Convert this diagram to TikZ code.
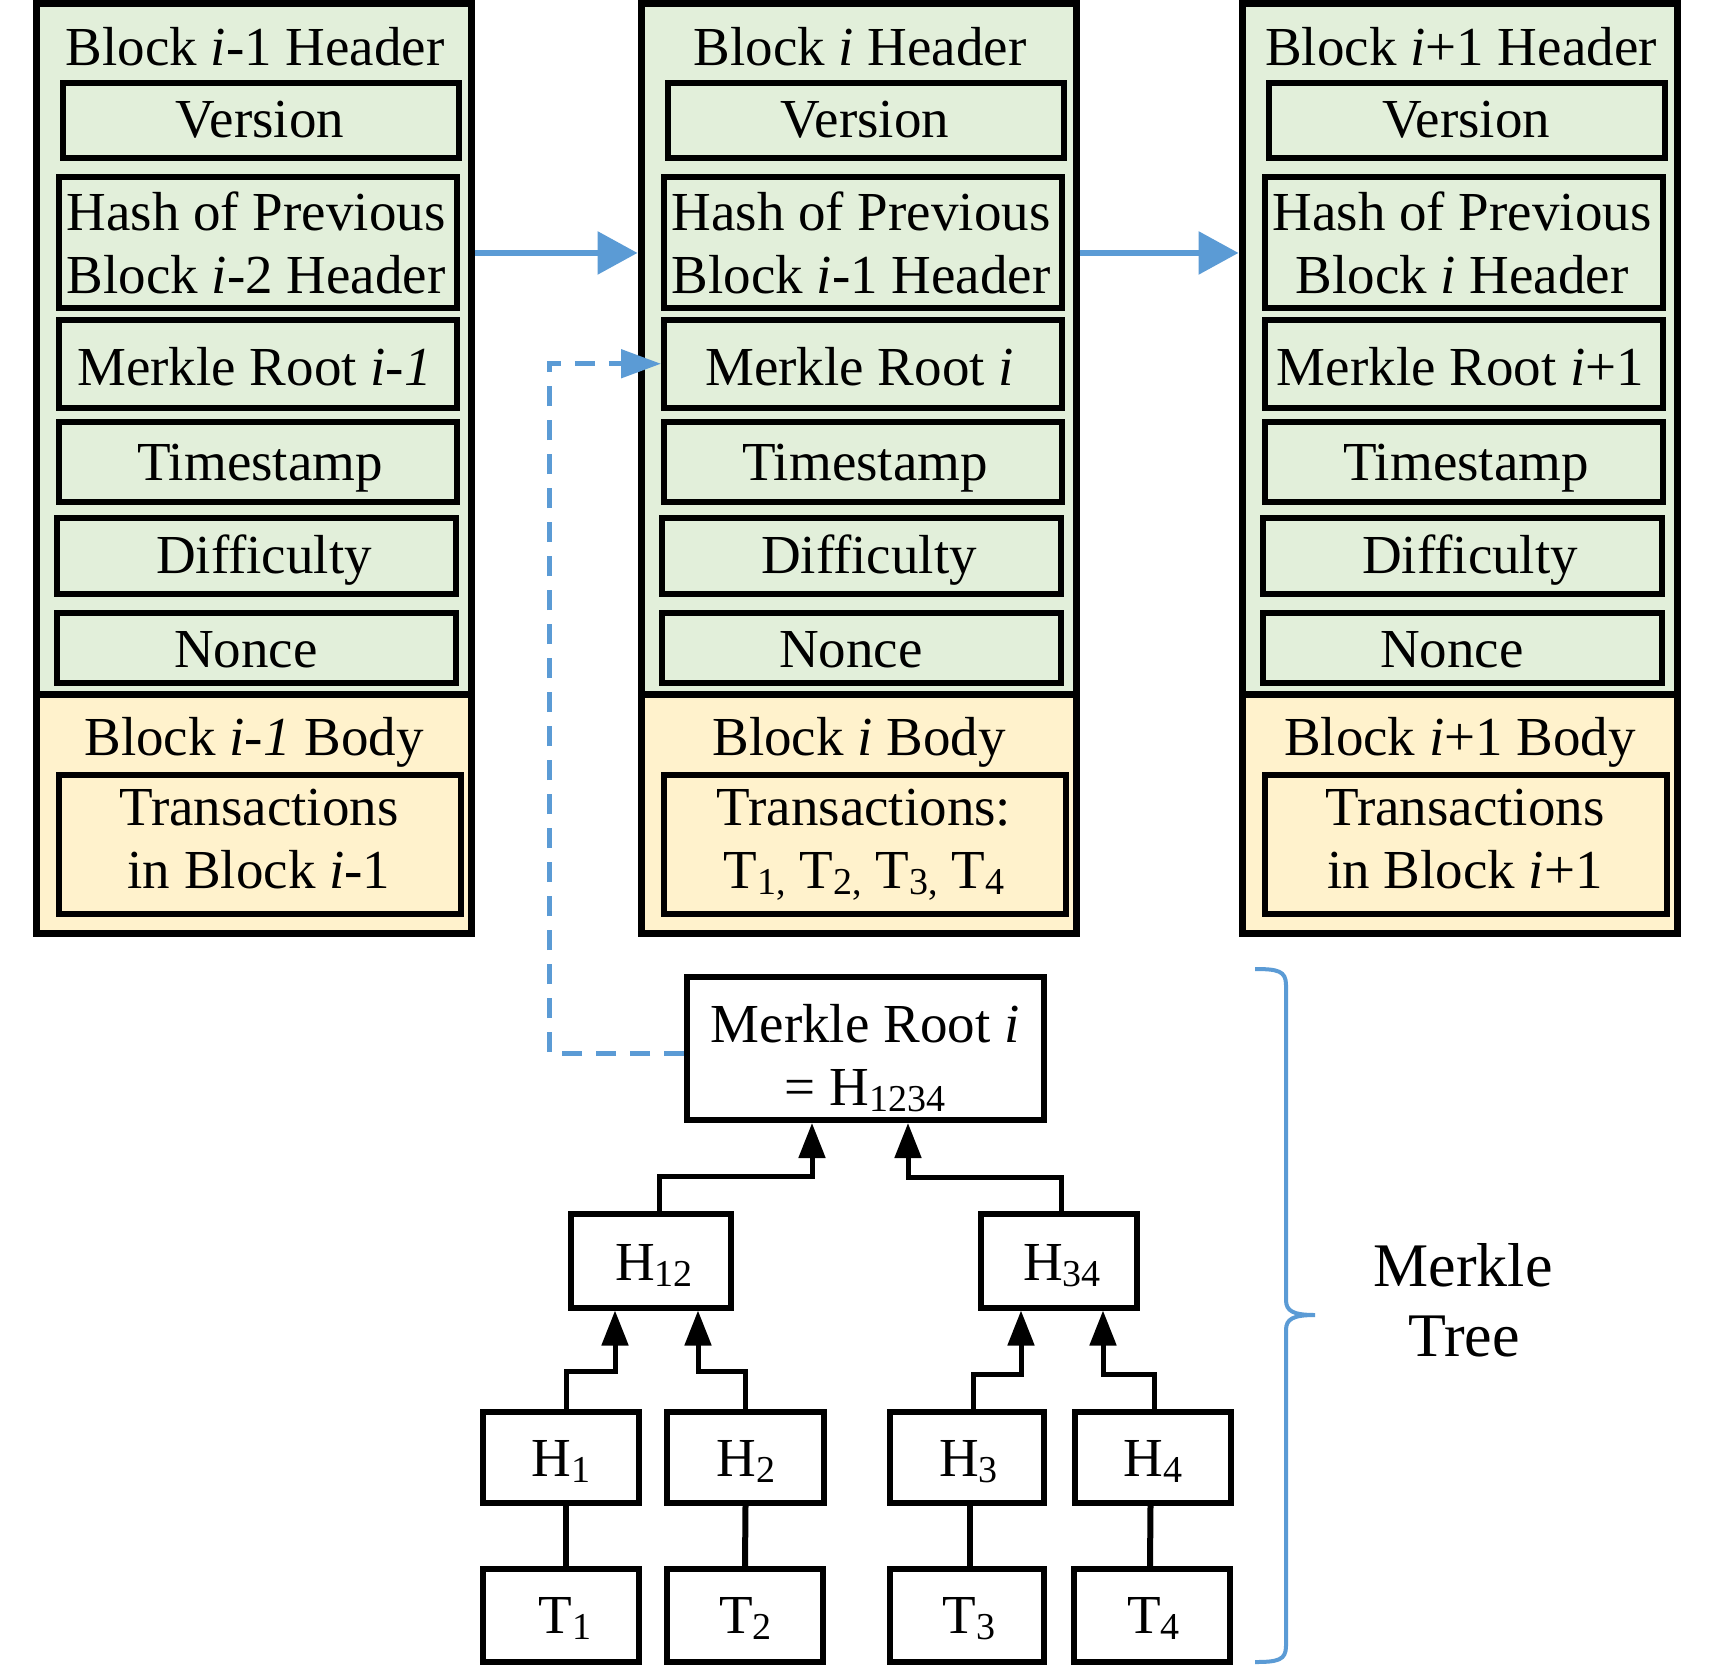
\documentclass[tikz,border=0pt]{standalone}
\usepackage{fontspec}
\setmainfont{Liberation Serif}
\usetikzlibrary{arrows.meta,calc}
\definecolor{hdrgreen}{HTML}{E2EFDA}
\definecolor{bodyyel}{HTML}{FFF2CC}
\definecolor{lnblue}{HTML}{5B9BD5}
\newcommand\fsz{\fontsize{27.5}{31.5}\selectfont}
\newcommand\sbs[1]{\raisebox{-0.11em}{\fontsize{19}{19}\selectfont #1}}
\newcommand\bx[6]{\node[#6, minimum width={((#4)-(#2))*0.5pt}, minimum height={((#5)-(#3))*0.5pt}] (#1) at ({((#2)+(#4))/2},{((#3)+(#5))/2}) {};}
\newcommand\tl[4]{\node[txt] (#1) at ({#2},{#3}) {#4};}
\newcommand\blockframe[2]{%
 \bx{#1head}{#2}{3.5}{#2+435}{694}{outer, fill=hdrgreen}
 \bx{#1body}{#2}{694}{#2+435}{933}{outer, fill=bodyyel}
 \bx{#1ver}{#2+27}{82.5}{#2+423}{158}{inner, fill=hdrgreen}
 \bx{#1hash}{#2+23}{177}{#2+421}{308}{inner, fill=hdrgreen}
 \bx{#1mr}{#2+23}{320}{#2+421}{407.5}{inner, fill=hdrgreen}
 \bx{#1ts}{#2+23}{422}{#2+421}{502}{inner, fill=hdrgreen}
 \bx{#1dif}{#2+21}{518}{#2+420}{594}{inner, fill=hdrgreen}
 \bx{#1non}{#2+21}{612.5}{#2+420}{683}{inner, fill=hdrgreen}
 \bx{#1tx}{#2+23}{775}{#2+425}{914}{inner, fill=bodyyel}
}
\newcommand\btxt[8]{%
 \tl{#1t-title}{#2+219}{65}{#3}
 \tl{#1t-ver}{#2+224}{137}{Version}
 \tl{#1t-hash1}{#2+220}{230}{Hash of Previous}
 \tl{#1t-hash2}{#2+220}{293}{#4}
 \tl{#1t-mr}{#2+218.5}{385}{#5}
 \tl{#1t-ts}{#2+224}{480}{Timestamp}
 \tl{#1t-dif}{#2+228}{573}{Difficulty}
 \tl{#1t-non}{#2+210}{667}{Nonce}
 \tl{#1t-body}{#2+218}{755}{#6}
 \tl{#1t-tx1}{#2+223}{825}{#7}
 \tl{#1t-tx2}{#2+223}{888}{#8}
}
\begin{document}
\begin{tikzpicture}[x=0.5pt,y=-0.5pt,
 outer/.style={draw, line width=3.5pt, inner sep=0},
 inner/.style={draw, line width=3pt, inner sep=0},
 tbox/.style={draw, line width=3pt, fill=white, inner sep=0},
 txt/.style={inner sep=0, anchor=base, font=\fsz},
 tarrow/.style={line width=2.5pt, -{Triangle[length=17.5pt,width=13pt]}},
 tline/.style={line width=3pt},
 barrow/.style={lnblue, line width=3pt, -{Triangle[length=20pt,width=21pt]}},
 darrow/.style={lnblue, line width=2.5pt, dash pattern=on 10pt off 7pt, -{Triangle[length=20pt,width=14pt]}}]
\fill[white] (0,0) rectangle (1712,1665);
\useasboundingbox (0,0) rectangle (1712,1665);
% blocks
\blockframe{L}{36}
\blockframe{M}{641}
\blockframe{R}{1242}
\btxt{L}{36}{Block \textit{i}-1 Header}{Block \textit{i}-2 Header}{Merkle Root \textit{i-1}}{Block \textit{i-1} Body}{Transactions}{in Block \textit{i}-1}
\btxt{M}{641}{Block \textit{i} Header}{Block \textit{i}-1 Header}{Merkle Root \textit{i}}{Block \textit{i} Body}{Transactions:}{T\sbs{1,} T\sbs{2,} T\sbs{3,} T\sbs{4}}
\btxt{R}{1242}{Block \textit{i}+1 Header}{Block \textit{i} Header}{Merkle Root \textit{i}+1}{Block \textit{i}+1 Body}{Transactions}{in Block \textit{i}+1}
% chain arrows
\draw[barrow] ([yshift=47.9pt]Lhead.east) -- ([yshift=47.9pt]Mhead.west);
\draw[barrow] ([yshift=47.9pt]Mhead.east) -- ([yshift=47.9pt]Rhead.west);
% merkle tree
\bx{Root}{687}{977}{1044}{1120}{tbox}
\bx{H12}{571}{1214}{731}{1307.5}{tbox}
\bx{H34}{981}{1214}{1137}{1307.5}{tbox}
\bx{H1}{483}{1412}{639}{1503}{tbox}
\bx{H2}{667}{1412}{824}{1503}{tbox}
\bx{H3}{890}{1412}{1044}{1503}{tbox}
\bx{H4}{1074.5}{1412}{1230.5}{1503}{tbox}
\bx{T1}{483}{1569}{639}{1662}{tbox}
\bx{T2}{667}{1569}{823}{1662}{tbox}
\bx{T3}{890}{1569}{1044}{1662}{tbox}
\bx{T4}{1074}{1569}{1230}{1662}{tbox}
\tl{Root-t1}{865}{1042}{Merkle Root \textit{i}}
\tl{Root-t2}{865}{1105}{= H\sbs{1234}}
\tl{H12-t}{654}{1280}{H\sbs{12}}
\tl{H34-t}{1062}{1280}{H\sbs{34}}
\tl{H1-t}{561}{1476}{H\sbs{1}}
\tl{H2-t}{746}{1476}{H\sbs{2}}
\tl{H3-t}{968.5}{1476}{H\sbs{3}}
\tl{H4-t}{1153}{1476}{H\sbs{4}}
\tl{T1-t}{565}{1633}{T\sbs{1}}
\tl{T2-t}{745.5}{1633}{T\sbs{2}}
\tl{T3-t}{969}{1633}{T\sbs{3}}
\tl{T4-t}{1153.5}{1633}{T\sbs{4}}
\draw[tline] ([xshift=2.5pt]H1.south) -- ([xshift=2.5pt]T1.north);
\draw[tline] (H2.south) -- (T2.north);
\draw[tline] ([xshift=1.5pt]H3.south) -- ([xshift=1.5pt]T3.north);
\draw[tline] ([xshift=-1pt]H4.south) -- ([xshift=-1pt]T4.north);
\draw[tarrow] ([xshift=2.5pt]H1.north) -- ++(0,-38) -| ([xshift=-18pt]H12.south);
\draw[tarrow] (H2.north) -- ++(0,-38) -| ([xshift=23.5pt]H12.south);
\draw[tarrow] ([xshift=3pt]H3.north) -- ++(0,-35) -| ([xshift=-19pt]H34.south);
\draw[tarrow] ([xshift=0.75pt]H4.north) -- ++(0,-35) -| ([xshift=22pt]H34.south);
\draw[tarrow] ([xshift=4pt]H12.north) -- ++(0,-35) -| ([xshift=-26.75pt]Root.south);
\draw[tarrow] ([xshift=1pt]H34.north) -- ++(0,-34) -| ([xshift=21.25pt]Root.south);
% dashed link
\coordinate (dk) at (549,1053);
\draw[darrow] ([yshift=-2.25pt]Root.west) -- ([yshift=-2.25pt]Root.west -| dk) |- (Mmr.west);
% brace
\coordinate (brtop) at (1255,969);
\coordinate (brbot) at (1255,1662);
\draw[lnblue, line width=2pt] (brtop) .. controls (1278,969) and (1286,971) .. (1286,985)
  -- (1286,1300) .. controls (1286,1311) and (1293,1315) .. (1315,1315)
  .. controls (1293,1315) and (1286,1319) .. (1286,1330)
  -- (1286,1646) .. controls (1286,1660) and (1278,1662) .. (brbot);
\node[inner sep=0, anchor=base, font=\fontsize{31}{35}\selectfont] (mt1) at (1463,1286) {Merkle};
\node[inner sep=0, anchor=base, font=\fontsize{31}{35}\selectfont] (mt2) at (1464,1356) {Tree};
\end{tikzpicture}
\end{document}
